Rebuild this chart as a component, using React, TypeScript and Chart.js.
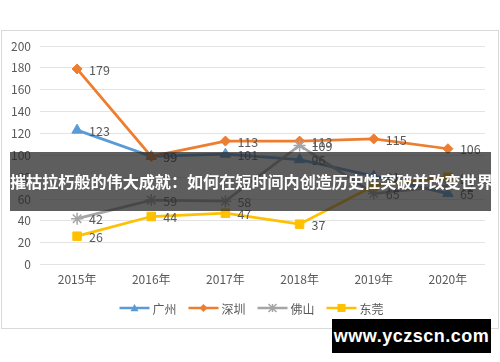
import React, { useEffect, useRef } from "react";
import { Chart, registerables } from "chart.js";
Chart.register(...registerables);

const years = ["2015年", "2016年", "2017年", "2018年", "2019年", "2020年"];
const guangzhou = [123, 99, 101, 96, 81, 65];
const shenzhen = [179, 99, 113, 113, 115, 106];
const foshan = [42, 59, 58, 109, 65, 72];
const dongguan = [26, 44, 47, 37, 72, 80];
const seriesNames = ["广州", "深圳", "佛山", "东莞"];
const seriesColors = ["#5B9BD5", "#ED7D31", "#A5A5A5", "#FFC000"];
const seriesMarkers = ["triangle", "rectRot", "star", "rect"];
const seriesMarkerSize = [6, 5, 6, 6];
const bannerText = "摧枯拉朽般的伟大成就：如何在短时间内创造历史性突破并改变世界";
const watermarkText = "www.yczscn.com";

const FONT = "'Noto Sans CJK SC', 'Noto Sans', sans-serif";

const framePlugin = {
  id: "frame",
  beforeDraw(chart: any) {
    const ctx = chart.ctx;
    ctx.save();
    ctx.fillStyle = "#ffffff";
    ctx.fillRect(0, 0, chart.width, chart.height);
    ctx.strokeStyle = "#d9d9d9";
    ctx.lineWidth = 1;
    ctx.strokeRect(1.5, 30.5, 497, 298);
    ctx.restore();
  },
};

const labelPlugin = {
  id: "dataLabels",
  afterDatasetsDraw(chart: any) {
    const ctx = chart.ctx;
    ctx.save();
    ctx.font = `12.5px ${FONT}`;
    ctx.fillStyle = "#595959";
    ctx.textBaseline = "middle";
    ctx.textAlign = "left";
    chart.data.datasets.forEach((ds: any, i: number) => {
      const meta = chart.getDatasetMeta(i);
      meta.data.forEach((pt: any, j: number) => {
        ctx.fillText(String(ds.data[j]), pt.x + 12, pt.y + 1);
      });
    });
    ctx.restore();
  },
};

function drawMarker(ctx: CanvasRenderingContext2D, style: string, x: number, y: number, r: number, color: string) {
  ctx.save();
  ctx.fillStyle = color;
  ctx.strokeStyle = color;
  ctx.lineWidth = 1.5;
  ctx.beginPath();
  if (style === "triangle") {
    ctx.moveTo(x, y - r);
    ctx.lineTo(x + r, y + r * 0.8);
    ctx.lineTo(x - r, y + r * 0.8);
    ctx.closePath();
    ctx.fill();
  } else if (style === "rectRot") {
    ctx.moveTo(x, y - r);
    ctx.lineTo(x + r, y);
    ctx.lineTo(x, y + r);
    ctx.lineTo(x - r, y);
    ctx.closePath();
    ctx.fill();
  } else if (style === "rect") {
    ctx.rect(x - r, y - r, 2 * r, 2 * r);
    ctx.fill();
  } else {
    ctx.moveTo(x - r, y - r);
    ctx.lineTo(x + r, y + r);
    ctx.moveTo(x + r, y - r);
    ctx.lineTo(x - r, y + r);
    ctx.moveTo(x, y - r);
    ctx.lineTo(x, y + r);
    ctx.stroke();
  }
  ctx.restore();
}

const legendPlugin = {
  id: "customLegend",
  afterDraw(chart: any) {
    const ctx = chart.ctx;
    ctx.save();
    ctx.font = `12px ${FONT}`;
    const lineW = 30;
    const gap = 3;
    const itemGap = 12;
    const widths = seriesNames.map((n) => lineW + gap + ctx.measureText(n).width);
    const total = widths.reduce((a, b) => a + b, 0) + itemGap * (seriesNames.length - 1);
    let x = 251.5 - total / 2;
    const y = 308;
    seriesNames.forEach((name, i) => {
      ctx.strokeStyle = seriesColors[i];
      ctx.lineWidth = 2.5;
      ctx.beginPath();
      ctx.moveTo(x, y);
      ctx.lineTo(x + lineW, y);
      ctx.stroke();
      drawMarker(ctx, seriesMarkers[i], x + lineW / 2, y, 4, seriesColors[i]);
      ctx.fillStyle = "#595959";
      ctx.textBaseline = "middle";
      ctx.textAlign = "left";
      ctx.fillText(name, x + lineW + gap, y + 1);
      x += widths[i] + itemGap;
    });
    ctx.restore();
  },
};

export default function App() {
  const ref = useRef<HTMLCanvasElement | null>(null);
  useEffect(() => {
    document.body.style.margin = "0";
    const seriesData = [guangzhou, shenzhen, foshan, dongguan];
    const chart = new Chart(ref.current as HTMLCanvasElement, {
      type: "line",
      data: {
        labels: years,
        datasets: seriesNames.map((name, i) => ({
          label: name,
          data: seriesData[i],
          borderColor: seriesColors[i],
          backgroundColor: seriesColors[i],
          borderWidth: 2.75,
          pointStyle: seriesMarkers[i] as any,
          pointRadius: seriesMarkerSize[i],
          pointBorderWidth: seriesMarkers[i] === "star" ? 1.5 : 1,
          pointBorderColor: seriesColors[i],
          pointBackgroundColor: seriesColors[i],
          tension: 0,
          order: 4 - i,
        })),
      },
      options: {
        animation: false,
        responsive: false,
        devicePixelRatio: 1,
        layout: { padding: { left: 0, top: 46, right: 15, bottom: 67 } },
        plugins: {
          legend: { display: false },
          tooltip: { enabled: false },
        },
        scales: {
          x: {
            offset: true,
            grid: { display: false, drawTicks: false },
            border: { display: false },
            ticks: { color: "#595959", font: { size: 12, family: FONT }, padding: 8 },
          },
          y: {
            min: 0,
            max: 200,
            afterFit: (s: any) => {
              s.width = 40;
            },
            grid: { color: "#e3e3e3", lineWidth: 1, drawTicks: false },
            border: { display: false },
            ticks: { stepSize: 20, color: "#595959", font: { size: 12, family: FONT }, padding: 9 },
          },
        },
      },
      plugins: [framePlugin, labelPlugin, legendPlugin],
    });
    return () => chart.destroy();
  }, []);

  return (
    <div style={{ position: "relative", width: 500, height: 362, overflow: "hidden" }}>
      <canvas ref={ref} width={500} height={362} style={{ position: "absolute", left: 0, top: 0, width: 500, height: 362 }} />
      <div
        style={{
          position: "absolute",
          left: 10,
          top: 152,
          width: 481,
          height: 59,
          background: "rgba(40,40,40,0.75)",
          color: "#ffffff",
          fontFamily: FONT,
          fontWeight: 700,
          fontSize: 16.1,
          lineHeight: "59px",
          whiteSpace: "nowrap",
          overflow: "hidden",
        }}
      >
        {bannerText}
      </div>
      <div
        style={{
          position: "absolute",
          left: 332,
          top: 319,
          width: 159,
          height: 34,
          background: "#000000",
          color: "#ffffff",
          fontFamily: "'Liberation Sans', Arial, sans-serif",
          fontWeight: 700,
          fontSize: 18,
          lineHeight: "34px",
          textAlign: "center",
          letterSpacing: 0.5,
        }}
      >
        {watermarkText}
      </div>
    </div>
  );
}
